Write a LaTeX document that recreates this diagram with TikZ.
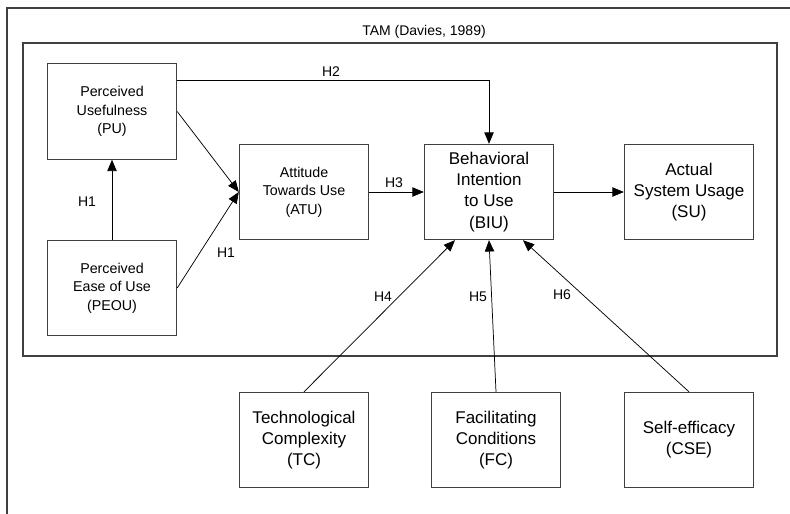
\documentclass[tikz,border=0pt]{standalone}
\usepackage{fontspec}
\setmainfont{Liberation Sans}
\usetikzlibrary{arrows.meta,calc}
\begin{document}
\begin{tikzpicture}[x=0.75pt,y=-0.75pt,
  box/.style={draw=black!75, line width=0.8pt, minimum width=97pt, minimum height=71.5pt, align=center, inner sep=0pt, font=\fontsize{10.7}{13.9}\selectfont},
  bigbox/.style={box, font=\fontsize{12.75}{15.8}\selectfont},
  arr/.style={draw=black, line width=0.55pt, -{Triangle[length=8.5pt,width=7pt]}},
  lbl/.style={font=\fontsize{10.5}{12}\selectfont, inner sep=0pt},
  frame/.style={draw=black!75, line width=0.8pt}]
\useasboundingbox (0,0) rectangle (790,514);
\draw[frame] (7,514) -- (7,8) -- (790,8);
\draw[frame] (23,43) rectangle (777,356);
\node[lbl] (title) at (424,32) {TAM (Davies, 1989)};
% boxes
\node[box] (pu) at (112,111.5) {Perceived\\Usefulness\\(PU)};
\node[box] (peou) at (112,288) {Perceived\\Ease of Use\\(PEOU)};
\node[box] (atu) at (304,192) {Attitude\\Towards Use\\(ATU)};
\node[bigbox] (biu) at (489,192) {Behavioral\\Intention\\to Use\\(BIU)};
\node[bigbox] (su) at (689,192) {Actual\\System Usage\\(SU)};
\node[bigbox] (tc) at (304,440) {Technological\\Complexity\\(TC)};
\node[bigbox] (fc) at (496,440) {Facilitating\\Conditions\\(FC)};
\node[bigbox] (cse) at (689,440) {Self-efficacy\\(CSE)};
% connectors
\coordinate (h2y) at (0,80);
\coordinate (b4) at ($(biu.south)+(-34,0)$);
\coordinate (b6) at ($(biu.south)+(34,0)$);
\draw[arr] (peou.north) -- (pu.south);
\draw[arr] (pu.east) -- (atu.west);
\draw[arr] (peou.east) -- (atu.west);
\draw[arr] (pu.east |- h2y) -| (biu.north);
\draw[arr] (atu.east) -- (biu.west);
\draw[arr] (biu.east) -- (su.west);
\draw[arr] (tc.north) -- (b4);
\draw[arr] (fc.north) -- (biu.south);
\draw[arr] (cse.north) -- (b6);
% labels
\node[lbl] (l1a) at (87,202) {H1};
\node[lbl] (l1b) at (226,253) {H1};
\node[lbl] (l2) at (331,72) {H2};
\node[lbl] (l3) at (394,183) {H3};
\node[lbl] (l4) at (383,297) {H4};
\node[lbl] (l5) at (478,297) {H5};
\node[lbl] (l6) at (562,295) {H6};
\end{tikzpicture}
\end{document}
